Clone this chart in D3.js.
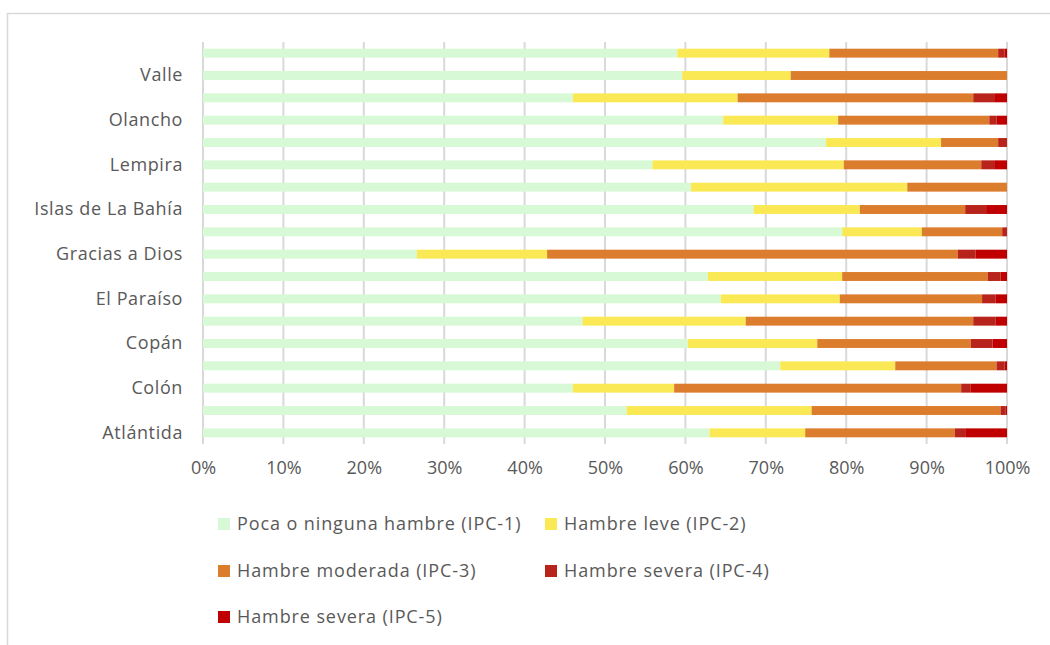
<!DOCTYPE html>
<html>
<head>
<meta charset="utf-8">
<script src="https://cdn.jsdelivr.net/npm/d3@7"></script>
<style>
  body { margin: 0; background: #fff; }
  svg { font-family: "Open Sans", Lato, sans-serif; }
</style>
</head>
<body>
<div id="chart"></div>
<script>
// Departamentos, de abajo hacia arriba
const departments = ["Atlántida", "Choluteca", "Colón", "Comayagua", "Copán", "Cortés",
    "El Paraíso", "Francisco Morazán", "Gracias a Dios", "Intibucá", "Islas de La Bahía",
    "La Paz", "Lempira", "Ocotepeque", "Olancho", "Santa Bárbara", "Valle", "Yoro"];
const shownLabels = ["Atlántida", "Colón", "Copán", "El Paraíso", "Gracias a Dios",
    "Islas de La Bahía", "Lempira", "Olancho", "Valle"];

const ipc1 = [63.0, 52.7, 46.0, 71.8, 60.3, 47.2, 64.4, 62.8, 26.6, 79.5, 68.5, 60.7, 55.9, 77.5, 64.7, 46.0, 59.6, 59.0];
const ipc2 = [11.9, 23.0, 12.6, 14.3, 16.1, 20.3, 14.8, 16.7, 16.2, 9.9, 13.2, 26.9, 23.8, 14.3, 14.3, 20.5, 13.5, 18.9];
const ipc3 = [18.6, 23.5, 35.7, 12.6, 19.1, 28.3, 17.7, 18.1, 51.1, 10.0, 13.1, 12.4, 17.1, 7.1, 18.8, 29.3, 26.9, 21.0];
const ipc4 = [1.3, 0.6, 1.2, 1.0, 2.7, 2.8, 1.7, 1.6, 2.2, 0.6, 2.6, 0, 1.6, 1.1, 0.9, 2.6, 0, 0.8];
const ipc5 = [5.2, 0.2, 4.5, 0.3, 1.8, 1.4, 1.4, 0.8, 3.9, 0, 2.6, 0, 1.6, 0, 1.3, 1.6, 0, 0.3];

const seriesNames = ["Poca o ninguna hambre (IPC-1)", "Hambre leve (IPC-2)",
    "Hambre moderada (IPC-3)", "Hambre severa (IPC-4)", "Hambre severa (IPC-5)"];
const seriesColors = ["#d8f9d5", "#fae955", "#dc7d2e", "#b8241b", "#c00000"];
const xTicks = [0, 10, 20, 30, 40, 50, 60, 70, 80, 90, 100];

const keys = ["ipc1", "ipc2", "ipc3", "ipc4", "ipc5"];
const rows = departments.map((d, i) => ({
    name: d, ipc1: ipc1[i], ipc2: ipc2[i], ipc3: ipc3[i], ipc4: ipc4[i], ipc5: ipc5[i]
}));

const width = 1050, height = 645;
const margin = { top: 42, right: 43, bottom: 201, left: 203 };
const innerW = width - margin.left - margin.right;
const innerH = height - margin.top - margin.bottom;

const svg = d3.select("#chart").append("svg")
    .attr("width", width)
    .attr("height", height);

// Marco del gráfico
svg.append("rect")
    .attr("x", 7.5).attr("y", 13.5)
    .attr("width", 1060).attr("height", 660)
    .attr("fill", "none")
    .attr("stroke", "#d9d9d9")
    .attr("stroke-width", 1.5);

const g = svg.append("g").attr("transform", `translate(${margin.left},${margin.top})`);

const x = d3.scaleLinear().domain([0, 100]).range([0, innerW]);
const y = d3.scaleBand()
    .domain(departments.slice().reverse())
    .range([0, innerH])
    .paddingInner(0.6)
    .paddingOuter(0.3);

// Líneas de cuadrícula
g.append("g")
    .selectAll("line")
    .data(xTicks)
    .enter()
    .append("line")
    .attr("x1", d => x(d)).attr("x2", d => x(d))
    .attr("y1", 0).attr("y2", innerH)
    .attr("stroke", "#d9d9d9")
    .attr("stroke-width", 2);

// Barras apiladas
const stacked = d3.stack().keys(keys)(rows);
g.selectAll(".serie")
    .data(stacked)
    .enter()
    .append("g")
    .attr("fill", (d, i) => seriesColors[i])
    .selectAll("rect")
    .data(d => d)
    .enter()
    .append("rect")
    .attr("x", d => x(d[0]))
    .attr("y", d => y(d.data.name))
    .attr("width", d => x(d[1]) - x(d[0]))
    .attr("height", y.bandwidth());

// Eje Y
const yAxis = g.append("g")
    .call(d3.axisLeft(y).tickSize(0).tickPadding(20)
        .tickFormat(d => shownLabels.includes(d) ? d : ""));
yAxis.select(".domain").remove();
yAxis.selectAll("text")
    .attr("font-size", 18)
    .attr("letter-spacing", 0.6)
    .attr("font-family", "'Open Sans', Lato, sans-serif")
    .attr("fill", "#595959");

// Eje X
const xAxis = g.append("g")
    .attr("transform", `translate(0,${innerH})`)
    .call(d3.axisBottom(x).tickValues(xTicks).tickSize(0).tickPadding(17)
        .tickFormat(d => d + "%"));
xAxis.select(".domain").remove();
xAxis.selectAll("text")
    .attr("font-size", 18)
    .attr("font-family", "'Open Sans', Lato, sans-serif")
    .attr("fill", "#595959");

// Leyenda
const legendPos = [[218, 524], [545, 524], [218, 571], [545, 571], [218, 617]];
const legend = svg.append("g")
    .selectAll("g")
    .data(seriesNames)
    .enter()
    .append("g")
    .attr("transform", (d, i) => `translate(${legendPos[i][0]},${legendPos[i][1]})`);
legend.append("rect")
    .attr("x", 0).attr("y", -6)
    .attr("width", 12).attr("height", 12)
    .attr("fill", (d, i) => seriesColors[i]);
legend.append("text")
    .attr("x", 19)
    .attr("dy", "0.35em")
    .attr("font-size", 18)
    .attr("letter-spacing", 0.9)
    .attr("fill", "#595959")
    .text(d => d);
</script>
</body>
</html>
